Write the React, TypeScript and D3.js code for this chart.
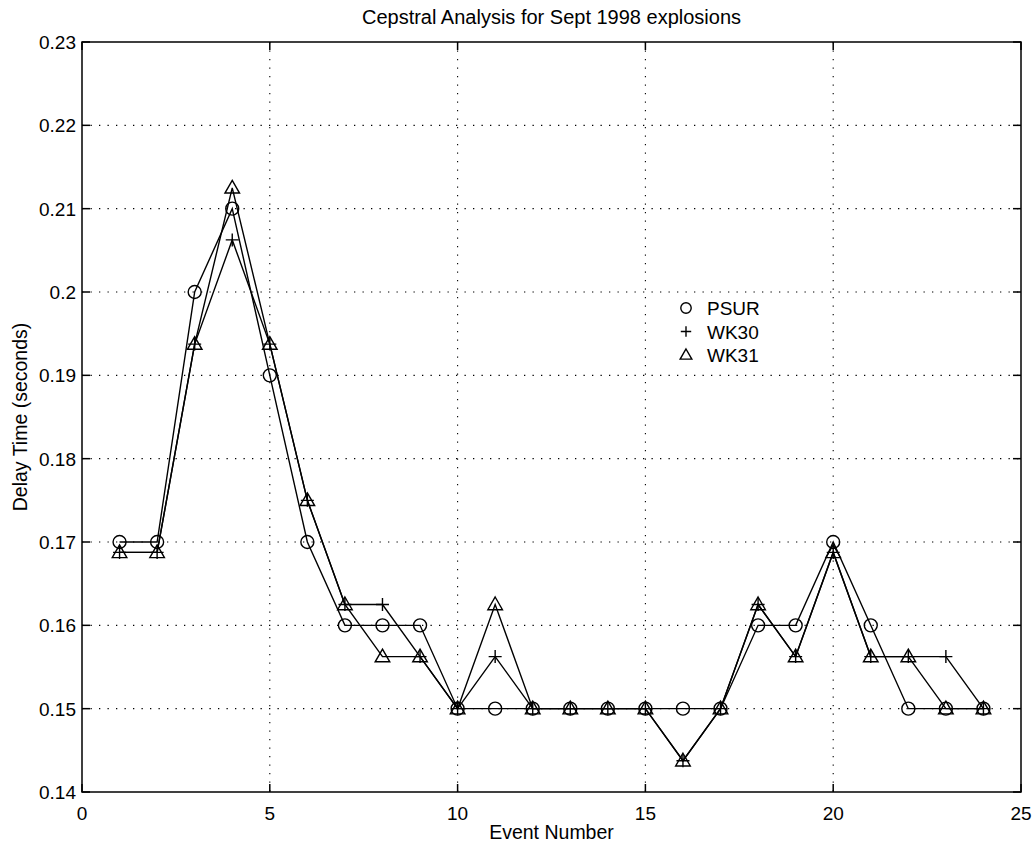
import React from 'react';
import * as d3 from 'd3';

// event numbers and delay times
const events = [1, 2, 3, 4, 5, 6, 7, 8, 9, 10, 11, 12, 13, 14, 15, 16, 17, 18, 19, 20, 21, 22, 23, 24];
const psur = [0.17, 0.17, 0.2, 0.21, 0.19, 0.17, 0.16, 0.16, 0.16, 0.15, 0.15, 0.15, 0.15, 0.15, 0.15, 0.15, 0.15, 0.16, 0.16, 0.17, 0.16, 0.15, 0.15, 0.15];
const wk30 = [0.16875, 0.16875, 0.19375, 0.20625, 0.19375, 0.175, 0.1625, 0.1625, 0.15625, 0.15, 0.15625, 0.15, 0.15, 0.15, 0.15, 0.14375, 0.15, 0.1625, 0.15625, 0.16875, 0.15625, 0.15625, 0.15625, 0.15];
const wk31 = [0.16875, 0.16875, 0.19375, 0.2125, 0.19375, 0.175, 0.1625, 0.15625, 0.15625, 0.15, 0.1625, 0.15, 0.15, 0.15, 0.15, 0.14375, 0.15, 0.1625, 0.15625, 0.16875, 0.15625, 0.15625, 0.15, 0.15];

const xTicks = [0, 5, 10, 15, 20, 25];
const yTicks = [0.14, 0.15, 0.16, 0.17, 0.18, 0.19, 0.2, 0.21, 0.22, 0.23];
const seriesNames = ['PSUR', 'WK30', 'WK31'];

const font = 'Liberation Sans, Arial, Helvetica, sans-serif';

function Marker({ kind, x, y, s = 1 }: { kind: string; x: number; y: number; s?: number }) {
  if (kind === 'PSUR') {
    return <circle cx={x} cy={y} r={6.5 * s} fill="none" stroke="#000" strokeWidth={1.4} />;
  }
  if (kind === 'WK30') {
    const h = 6.5 * s;
    return (
      <path d={`M${x - h},${y}H${x + h}M${x},${y - h}V${y + h}`} stroke="#000" strokeWidth={1.4} fill="none" />
    );
  }
  return (
    <path d={`M${x},${y - 7.5 * s}L${x + 7.3 * s},${y + 5.2 * s}L${x - 7.3 * s},${y + 5.2 * s}Z`} stroke="#000" strokeWidth={1.4} fill="none" />
  );
}

export default function App() {
  const width = 1034;
  const height = 844;
  const margin = { top: 42, right: 13, bottom: 52, left: 82 };
  const innerW = width - margin.left - margin.right;
  const innerH = height - margin.top - margin.bottom;

  const x = d3.scaleLinear().domain([0, 25]).range([margin.left, margin.left + innerW]);
  const y = d3.scaleLinear().domain([0.14, 0.23]).range([margin.top + innerH, margin.top]);

  const line = d3.line<[number, number]>()
    .x(d => x(d[0]))
    .y(d => y(d[1]));

  const series = [
    { name: 'PSUR', values: psur },
    { name: 'WK30', values: wk30 },
    { name: 'WK31', values: wk31 },
  ];

  const x0 = margin.left;
  const x1 = margin.left + innerW;
  const y0 = margin.top + innerH;
  const y1 = margin.top;
  const tick = 8;

  return (
    <svg width={width} height={height} style={{ position: 'absolute', left: 0, top: 0, background: '#fff' }} fontFamily={font}>
      <rect x={0} y={0} width={width} height={height} fill="#fff" />
      {/* grid */}
      {xTicks.filter(t => t > 0 && t < 25).map(t => (
        <line key={'gx' + t} x1={x(t)} x2={x(t)} y1={y1} y2={y0} stroke="#000" strokeWidth={1.1} strokeDasharray="1.3,7.2" />
      ))}
      {yTicks.filter(t => t > 0.14 && t < 0.229).map(t => (
        <line key={'gy' + t} x1={x0} x2={x1} y1={y(t)} y2={y(t)} stroke="#000" strokeWidth={1.1} strokeDasharray="1.3,7.2" />
      ))}
      {/* axes box */}
      <rect x={x0} y={y1} width={innerW} height={innerH} fill="none" stroke="#000" strokeWidth={1.5} />
      {xTicks.map(t => (
        <g key={'tx' + t}>
          <line x1={x(t)} x2={x(t)} y1={y0} y2={y0 - tick} stroke="#000" strokeWidth={1.5} />
          <line x1={x(t)} x2={x(t)} y1={y1} y2={y1 + tick} stroke="#000" strokeWidth={1.5} />
          <text x={x(t)} y={y0 + 28} textAnchor="middle" fontSize={19}>{t}</text>
        </g>
      ))}
      {yTicks.map(t => (
        <g key={'ty' + t}>
          <line x1={x0} x2={x0 + tick} y1={y(t)} y2={y(t)} stroke="#000" strokeWidth={1.5} />
          <line x1={x1} x2={x1 - tick} y1={y(t)} y2={y(t)} stroke="#000" strokeWidth={1.5} />
          <text x={x0 - 6} y={y(t) + 7} textAnchor="end" fontSize={19}>{d3.format('')(+t.toFixed(2))}</text>
        </g>
      ))}
      {/* series */}
      {series.map(s => (
        <g key={s.name}>
          <path d={line(events.map((e, i) => [e, s.values[i]] as [number, number])) || ''} fill="none" stroke="#000" strokeWidth={1.4} />
          {events.map((e, i) => (
            <Marker key={i} kind={s.name} x={x(e)} y={y(s.values[i])} />
          ))}
        </g>
      ))}
      {/* legend */}
      {seriesNames.map((n, i) => (
        <g key={'lg' + n}>
          <Marker kind={n} x={686} y={308 + i * 23.5} s={0.8} />
          <text x={707} y={315 + i * 23.5} fontSize={19}>{n}</text>
        </g>
      ))}
      {/* labels */}
      <text x={(x0 + x1) / 2} y={24} textAnchor="middle" fontSize={20}>Cepstral Analysis for Sept 1998 explosions</text>
      <text x={(x0 + x1) / 2} y={839} textAnchor="middle" fontSize={19.5}>Event Number</text>
      <text transform={`translate(27,${(y0 + y1) / 2}) rotate(-90)`} textAnchor="middle" fontSize={19.5}>Delay Time (seconds)</text>
    </svg>
  );
}
